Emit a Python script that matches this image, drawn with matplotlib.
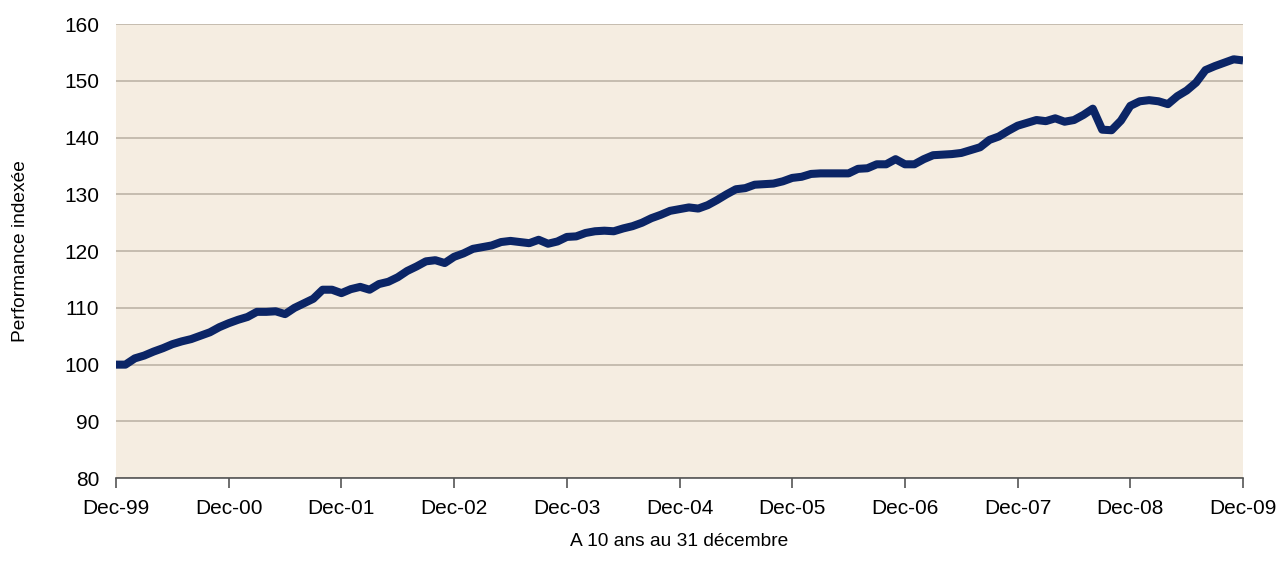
"""
Indexed performance over 10 years (Dec-99 = 100), monthly line chart.
"""

import matplotlib

matplotlib.use("Agg")
import matplotlib.pyplot as plt
import numpy as np

# Monthly index values, Dec-99 through Dec-09 (121 points)
performance = [
    100.0, 100.0, 101.1, 101.6, 102.3, 102.9, 103.6, 104.1, 104.5, 105.1, 105.7, 106.6,
    107.3, 107.9, 108.4, 109.3, 109.3, 109.4, 108.9, 110.0, 110.8, 111.6, 113.2, 113.2,
    112.6, 113.3, 113.7, 113.2, 114.2, 114.6, 115.4, 116.5, 117.3, 118.2, 118.4, 117.9,
    119.0, 119.6, 120.4, 120.7, 121.0, 121.6, 121.8, 121.6, 121.4, 122.0, 121.3, 121.7,
    122.5, 122.6, 123.2, 123.5, 123.6, 123.5, 124.0, 124.4, 125.0, 125.8, 126.4, 127.1,
    127.4, 127.7, 127.5, 128.1, 129.0, 130.0, 130.9, 131.1, 131.7, 131.8, 131.9, 132.3,
    132.9, 133.1, 133.6, 133.7, 133.7, 133.7, 133.7, 134.5, 134.6, 135.3, 135.3, 136.2,
    135.3, 135.3, 136.2, 136.9, 137.0, 137.1, 137.3, 137.8, 138.3, 139.6, 140.2, 141.2,
    142.1, 142.6, 143.1, 142.9, 143.4, 142.8, 143.1, 144.0, 145.1, 141.4, 141.3, 143.0,
    145.6, 146.4, 146.6, 146.4, 145.9, 147.3, 148.3, 149.7, 151.9, 152.6, 153.2, 153.8,
    153.6,
]
year_labels = ["Dec-99", "Dec-00", "Dec-01", "Dec-02", "Dec-03", "Dec-04",
               "Dec-05", "Dec-06", "Dec-07", "Dec-08", "Dec-09"]
y_ticks = [80, 90, 100, 110, 120, 130, 140, 150, 160]

plt.rcParams["font.family"] = ["Liberation Sans", "DejaVu Sans"]

months = np.arange(len(performance))

fig = plt.figure(figsize=(12.79, 5.74), dpi=100)
ax = fig.add_axes([0.0907, 0.167, 0.8812, 0.791])
ax.set_facecolor("#f5ede1")

ax.plot(months, performance, color="#0b2566", linewidth=5.8,
        solid_joinstyle="round", solid_capstyle="butt", zorder=3)

ax.set_xlim(0, len(performance) - 1)
ax.set_ylim(80, 160)
ax.set_xticks(np.arange(0, len(performance), 12))
ax.set_xticklabels(year_labels)
ax.set_yticks(y_ticks)

ax.grid(axis="y", color="#b8afa2", linewidth=1.1, zorder=1)
ax.tick_params(axis="y", length=0, pad=12, labelsize=15)
ax.tick_params(axis="x", direction="out", length=7, width=1.2, color="#555555",
               pad=8, labelsize=15)
for side in ("left", "right", "top"):
    ax.spines[side].set_visible(False)
ax.spines["bottom"].set_color("#555555")
ax.spines["bottom"].set_linewidth(1.2)

ax.set_ylabel("Performance indexée", fontsize=13.8, labelpad=25)
ax.set_xlabel("A 10 ans au 31 décembre", fontsize=13.8, labelpad=11)

fig.savefig("out.png", dpi=100, facecolor="white")
